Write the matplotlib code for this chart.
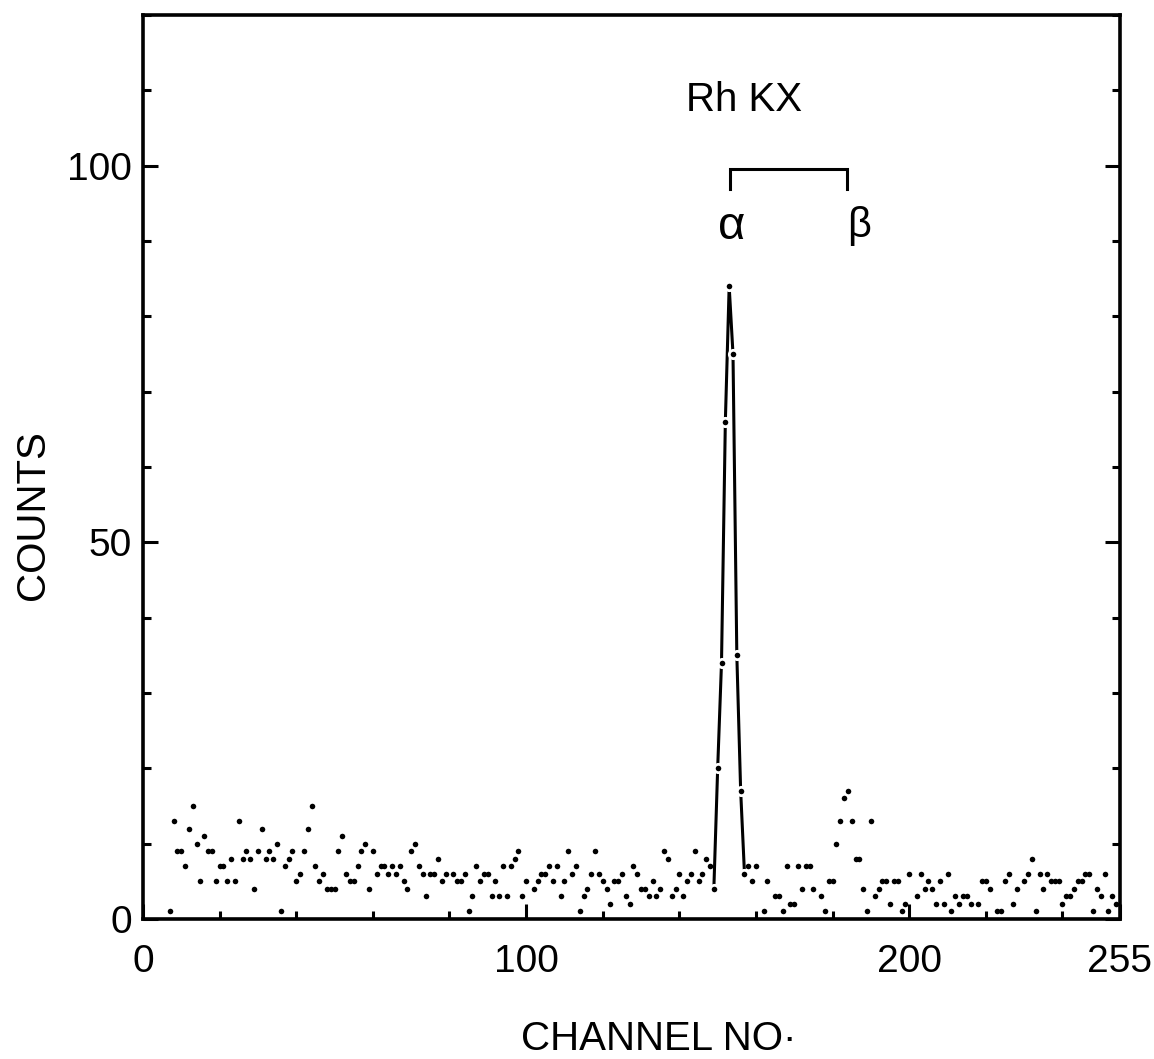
import numpy as np
import matplotlib
matplotlib.use('Agg')
import matplotlib.pyplot as plt
from matplotlib.ticker import MultipleLocator, FixedLocator

plt.rcParams['font.family'] = ['Liberation Sans', 'DejaVu Sans']

# background counts, channel by channel
bg_ch = [7, 8, 9, 10, 11, 12, 13, 14, 15, 16, 17, 18, 19, 20, 21, 22, 23, 24, 25, 26,
         27, 28, 29, 30, 31, 32, 33, 34, 35, 36, 37, 38, 39, 40, 41, 42, 43, 44, 45, 46,
         47, 48, 49, 50, 51, 52, 53, 54, 55, 56, 57, 58, 59, 60, 61, 62, 63, 64, 65,
         66, 67, 68, 69, 70, 71, 72, 73, 74, 75, 76, 77, 78, 79, 81, 82, 83, 84, 85, 86,
         87, 88, 89, 90, 91, 92, 93, 94, 95, 96, 97, 98, 99, 100, 102, 103, 104, 105, 106,
         107, 108, 109, 110, 111, 112, 113, 114, 115, 116, 117, 118, 119, 120, 121, 122,
         123, 124, 125, 126, 127, 128, 129, 130, 131, 132, 133, 134, 135, 136, 137, 138,
         139, 140, 141, 142, 143, 144, 145, 146, 147, 148,
         158, 159, 160, 162, 163, 165, 166, 167, 168, 169, 170, 171, 172, 173, 174, 175,
         177, 178, 179, 180, 181, 182, 183, 184, 185, 186, 187, 188, 189, 190, 191, 192,
         193, 194, 195, 196, 197, 198, 199, 200, 202, 203, 204, 205, 206, 207, 208, 209,
         210, 211, 212, 213, 214, 215, 216, 218, 219, 220, 221, 223, 224, 225, 226, 227,
         228, 230, 231, 232, 233, 234, 235, 236, 237, 238, 239, 240, 241, 242, 243, 244,
         245, 246, 247, 248, 249, 250, 251, 252, 253, 254]
bg_counts = [1, 13, 9, 9, 7, 12, 15, 10, 5, 11, 9, 9, 5, 7, 7, 5, 8, 5, 13, 8,
             9, 8, 4, 9, 12, 8, 9, 8, 10, 1, 7, 8, 9, 5, 6, 9, 12, 15, 7, 5,
             6, 4, 4, 4, 9, 11, 6, 5, 5, 7, 9, 10, 4, 9, 6, 7, 7, 6, 7,
             6, 7, 5, 4, 9, 10, 7, 6, 3, 6, 6, 8, 5, 6, 6, 5, 5, 6, 1, 3,
             7, 5, 6, 6, 3, 5, 3, 7, 3, 7, 8, 9, 3, 5, 4, 5, 6, 6, 7,
             5, 7, 3, 5, 9, 6, 7, 1, 3, 4, 6, 9, 6, 5, 4, 2,
             5, 5, 6, 3, 2, 7, 6, 4, 4, 3, 5, 3, 4, 9, 8, 3,
             4, 6, 3, 5, 6, 9, 5, 6, 8, 7,
             7, 5, 7, 1, 5, 3, 3, 1, 7, 2, 2, 7, 4, 7, 7, 4,
             3, 1, 5, 5, 10, 13, 16, 17, 13, 8, 8, 4, 1, 13, 3, 4,
             5, 5, 2, 5, 5, 1, 2, 6, 3, 6, 4, 5, 4, 2, 5, 2,
             6, 1, 3, 2, 3, 3, 2, 2, 5, 5, 4, 1, 1, 5, 6, 2,
             4, 5, 6, 8, 1, 6, 4, 6, 5, 5, 5, 2, 3, 3, 4, 5,
             5, 6, 6, 1, 4, 3, 6, 1, 3, 2]

# Rh K-alpha peak, joined by a line
peak_ch = [149, 150, 151, 152, 153, 154, 155, 156, 157]
peak_counts = [4, 20, 34, 66, 84, 75, 35, 17, 6]

# K-alpha / K-beta marker bracket
alpha_ch = 153.1
beta_ch = 183.8
bracket_top = 99.6
bracket_foot = 96.9

fig = plt.figure(figsize=(11.54, 10.59), dpi=100)
ax = fig.add_axes([0.1239, 0.1322, 0.8466, 0.8536])

ax.plot(bg_ch, bg_counts, 'o', ms=4.0, color='black', mec='none', zorder=3)

ax.plot(peak_ch, peak_counts, '-', lw=2.2, color='black', zorder=2)
ax.plot(peak_ch, peak_counts, 'o', ms=8.0, color='white', mec='none', zorder=3)
ax.plot(peak_ch, peak_counts, 'o', ms=4.0, color='black', mec='none', zorder=4)

ax.plot([alpha_ch, alpha_ch, beta_ch, beta_ch],
        [bracket_foot, bracket_top, bracket_top, bracket_foot],
        color='black', lw=2.2, solid_joinstyle='miter')

ax.text(156.8, 107.3, 'Rh KX', fontsize=29, ha='center', va='baseline')
ax.text(153.7, 90.3, 'α', fontsize=34, ha='center', va='baseline')
ax.text(187.0, 90.5, 'β', fontsize=30, ha='center', va='baseline')

ax.set_xlim(0, 255)
ax.set_ylim(0, 120)

ax.xaxis.set_major_locator(FixedLocator([0, 100, 200, 255]))
ax.xaxis.set_minor_locator(FixedLocator([20, 40, 60, 80, 120, 140, 160, 180, 220, 240]))
ax.set_xticklabels(['0', '100', '200', '255'])
ax.yaxis.set_major_locator(FixedLocator([0, 50, 100]))
ax.yaxis.set_minor_locator(MultipleLocator(10))

ax.tick_params(which='both', direction='in', top=False, right=True,
               width=2.2, labelsize=28, color='black')
ax.tick_params(which='major', length=10.5)
ax.tick_params(which='minor', length=6.0)
ax.tick_params(axis='x', which='major', pad=18)
ax.tick_params(axis='y', which='major', pad=8)

for s in ax.spines.values():
    s.set_linewidth(2.6)

fig.text(33 / 1154, 0.5137, 'COUNTS', rotation=90, fontsize=29,
         ha='center', va='center')
fig.text(659 / 1154, 9 / 1059, 'CHANNEL NO·', fontsize=29,
         ha='center', va='baseline')

fig.savefig('out.png', dpi=100)
